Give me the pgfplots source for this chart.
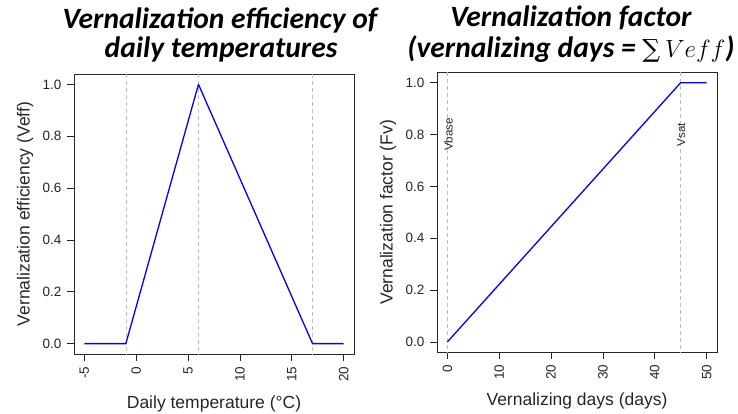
\documentclass[border=0pt]{standalone}
\usepackage{fontspec}
\setmainfont{Liberation Sans}
\newfontfamily\calibri{Carlito}
\newfontfamily\symserif{DejaVu Serif}
\usepackage{pgfplots}
\pgfplotsset{compat=1.18}

\definecolor{guide}{RGB}{190,190,190}
\definecolor{frame}{RGB}{40,40,40}

\pgfplotsset{
  rpanel/.style={
    scale only axis, width=280pt, height=280pt,
    axis line style={frame, line width=0.8pt},
    every tick/.style={frame, line width=0.8pt},
    major tick length=7pt, tick align=outside,
    xtick pos=bottom, ytick pos=left,
    ymin=-0.04, ymax=1.04,
    ytick={0,0.2,0.4,0.6,0.8,1.0},
    /pgf/number format/assume math mode=true,
    yticklabel style={/pgf/number format/fixed, /pgf/number format/fixed zerofill, /pgf/number format/precision=1},
    tick label style={font=\fontsize{13.5}{15}\selectfont, text=black!85},
    xticklabel style={rotate=90, anchor=east, xshift=-2pt},
    yticklabel style={anchor=east, xshift=-2pt},
    label style={font=\fontsize{17.5}{20}\selectfont, text=black!85},
    xlabel style={at={(axis description cs:0.5,0)}, anchor=base},
    ylabel style={at={(axis description cs:0,0.5)}, anchor=center},
    clip=true,
  },
  guideline/.style={guide, line width=0.7pt, dash pattern=on 4pt off 3pt},
  response/.style={blue, line width=1.3pt, line join=round},
}

\begin{document}
\begin{tikzpicture}
\path[use as bounding box] (0pt,0pt) rectangle (738pt,413pt);

% titles
\begin{scope}[every node/.style={font=\calibri\bfseries\itshape\fontsize{29.5}{34}\selectfont, anchor=base, inner sep=0pt}]
\node at (220pt,384pt) {Vernalization efficiency of};
\node at (221pt,355pt) {daily temperatures};
\node at (571pt,386pt) {Vernalization factor};
\node at (571pt,355pt) {(vernalizing days = {\symserif\mdseries\upshape\fontsize{25}{30}\selectfont ∑}\,$Veff$)};
\end{scope}

% left: efficiency of daily temperature
\begin{axis}[rpanel, at={(74pt,59pt)}, anchor=south west,
  xmin=-6, xmax=21, xtick={-5,0,5,10,15,20},
  xlabel={Daily temperature (°C)},
  ylabel={Vernalization efficiency (Veff)},
  xlabel style={yshift=-54pt},
  ylabel style={yshift=49pt}]
\addplot[guideline] coordinates {(-1,-1) (-1,2)};
\addplot[guideline] coordinates {(6,-1) (6,2)};
\addplot[guideline] coordinates {(17,-1) (17,2)};
\addplot[response] coordinates {(-5,0) (-1,0) (6,1) (17,0) (20,0)};
\end{axis}

% right: vernalization factor
\begin{axis}[rpanel, at={(437pt,60.7pt)}, anchor=south west,
  xmin=-2, xmax=52, xtick={0,10,20,30,40,50},
  xlabel={Vernalizing days (days)},
  ylabel={Vernalization factor (Fv)},
  xlabel style={yshift=-53pt},
  ylabel style={yshift=49pt}]
\addplot[guideline] coordinates {(0,-1) (0,2)};
\addplot[guideline] coordinates {(45,-1) (45,2)};
\addplot[response] coordinates {(0,0) (45,1) (50,1)};
\node[rotate=90, font=\fontsize{11.5}{13}\selectfont, text=black!85] at (axis cs:0.2,0.8) {Vbase};
\node[rotate=90, font=\fontsize{11.5}{13}\selectfont, text=black!85] at (axis cs:45.1,0.8) {Vsat};
\end{axis}
\end{tikzpicture}
\end{document}
